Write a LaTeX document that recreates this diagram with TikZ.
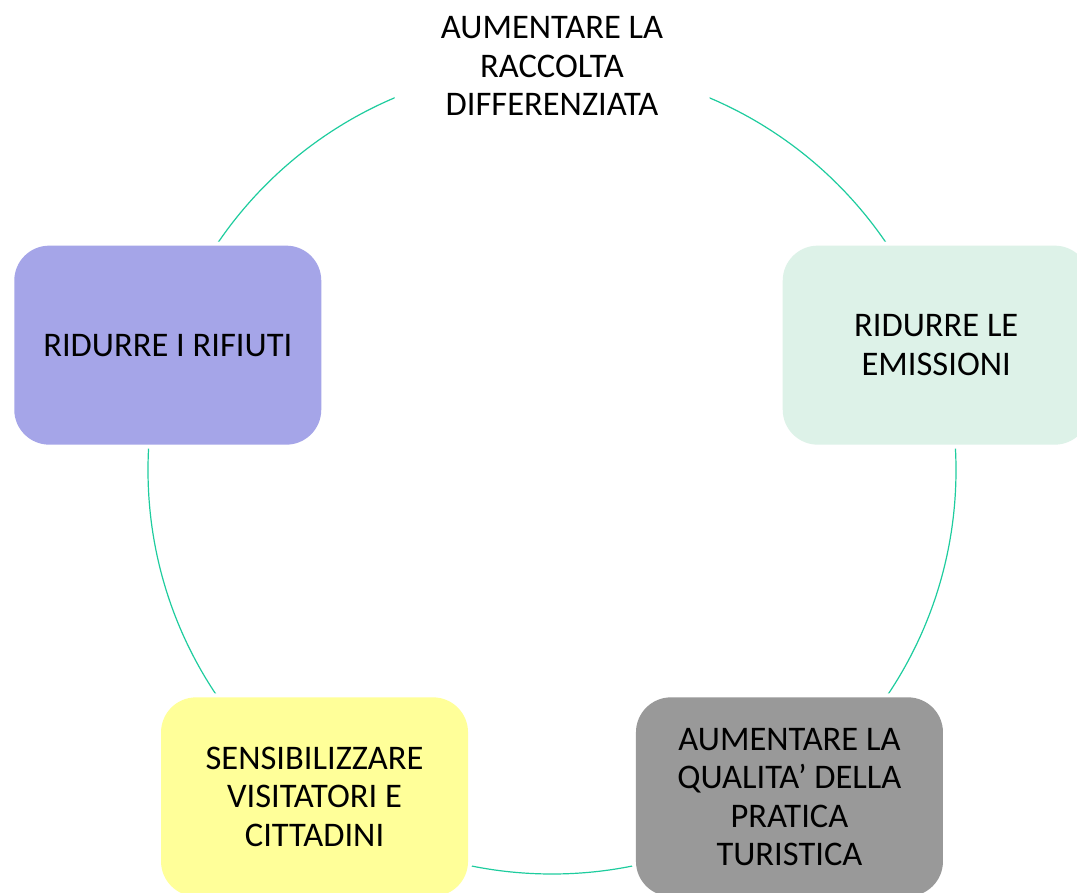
\documentclass[tikz,border=0pt]{standalone}
\usepackage{fontspec}
\setmainfont{Carlito}
\usetikzlibrary{calc}
\definecolor{ringline}{HTML}{1ECC9E}
\definecolor{lavanda}{HTML}{A5A5E8}
\definecolor{menta}{HTML}{DDF2E8}
\definecolor{giallo}{HTML}{FFFF99}
\definecolor{grigio}{HTML}{999999}
\begin{document}
\begin{tikzpicture}[x=1pt,y=1pt,
  goal/.style={rounded corners=35pt, minimum width=307pt, minimum height=199pt,
    align=center, font=\fontsize{34.5}{38.5}\selectfont,
    preaction={draw=white, line width=8pt}}]
\useasboundingbox (0,0) rectangle (1077,-893);
\clip (0,0) rectangle (1077,-893);
\coordinate (c) at (552,-470);
\draw [ringline, line width=1.2pt] (c) circle (404);
\node (raccolta)  [goal, fill=white] at ($(c)+(90:404)$) {AUMENTARE LA\\RACCOLTA\\DIFFERENZIATA};
\node (emissioni) [goal, fill=menta] at ($(c)+(18:404)$) {RIDURRE LE\\EMISSIONI};
\node (qualita)   [goal, fill=grigio] at ($(c)+(-54:404)$) {AUMENTARE LA\\QUALITA’ DELLA\\PRATICA\\TURISTICA};
\node (sensib)    [goal, fill=giallo] at ($(c)+(-126:404)$) {SENSIBILIZZARE\\VISITATORI E\\CITTADINI};
\node (rifiuti)   [goal, fill=lavanda] at ($(c)+(162:404)$) {RIDURRE I RIFIUTI};
\end{tikzpicture}
\end{document}
